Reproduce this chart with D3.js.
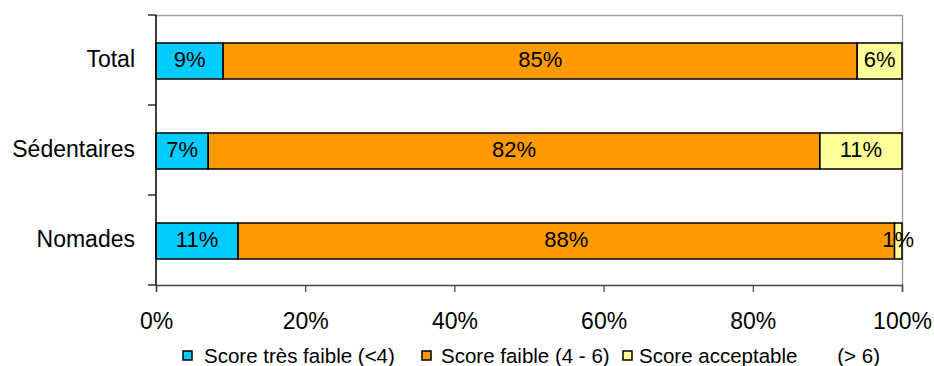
<!DOCTYPE html>
<html>
<head>
<meta charset="utf-8">
<script src="https://cdn.jsdelivr.net/npm/d3@7"></script>
<style>
  html, body { margin: 0; padding: 0; background: #fff; }
  svg { display: block; font-family: "Liberation Sans", Arial, sans-serif; }
</style>
</head>
<body>
<svg id="chart" width="934" height="366"></svg>
<script>
// Groups, top to bottom
const categories = ["Total", "Sédentaires", "Nomades"];
// Share of each score class per group (%)
const tresFaible = [9, 7, 11];
const faible = [85, 82, 88];
const acceptable = [6, 11, 1];
const seriesNames = ["Score très faible (<4)", "Score faible (4 - 6)", "Score acceptable       (> 6)"];
const seriesColors = ["#00CCFF", "#FF9900", "#FFFF99"];
const xTicks = [0, 20, 40, 60, 80, 100];

const svg = d3.select("#chart");
const plotL = 156, plotR = 902, plotT = 15, plotB = 285;

const x = d3.scaleLinear().domain([0, 100]).range([plotL, plotR]);
const y = d3.scaleBand().domain(categories).range([plotT, plotB]).padding(0);
const barH = y.bandwidth() * 0.4;

// Frame: grey top and right edges
svg.append("line").attr("x1", plotL).attr("x2", plotR).attr("y1", plotT + 0.5).attr("y2", plotT + 0.5)
  .attr("stroke", "#a0a0a0").attr("stroke-width", 1.5);
svg.append("line").attr("x1", plotR + 0.5).attr("x2", plotR + 0.5).attr("y1", plotT).attr("y2", plotB)
  .attr("stroke", "#a0a0a0").attr("stroke-width", 1.5);

// Stacked rows
const rows = categories.map((c, i) => ({ cat: c, vals: [tresFaible[i], faible[i], acceptable[i]] }));
rows.forEach(r => {
  let acc = 0;
  const yc = y(r.cat) + y.bandwidth() / 2 + 1;
  r.vals.forEach((v, k) => {
    const x0 = x(acc), x1 = x(acc + v);
    svg.append("rect")
      .attr("x", x0).attr("y", yc - barH / 2)
      .attr("width", x1 - x0).attr("height", barH)
      .attr("fill", seriesColors[k]).attr("stroke", "#000").attr("stroke-width", 1.5);
    acc += v;
  });
  acc = 0;
  r.vals.forEach((v) => {
    svg.append("text")
      .attr("x", x(acc + v / 2)).attr("y", yc - 1.5)
      .attr("text-anchor", "middle").attr("dominant-baseline", "central")
      .attr("font-size", 22).attr("fill", "#000")
      .text(v + "%");
    acc += v;
  });
});

// Bottom axis
const xAxis = d3.axisBottom(x).tickValues(xTicks).tickFormat(d => d + "%").tickSize(7).tickPadding(21);
const gx = svg.append("g").attr("transform", `translate(0,${plotB})`).call(xAxis);
gx.select(".domain").attr("stroke", "#444").attr("stroke-width", 1.5);
gx.selectAll(".tick line").attr("stroke", "#444").attr("stroke-width", 1.2);
gx.selectAll(".tick text").attr("font-size", 23).attr("fill", "#000").attr("font-family", "Liberation Sans, Arial, sans-serif");

// Left axis: ticks at band boundaries
svg.append("line").attr("x1", plotL).attr("x2", plotL).attr("y1", plotT).attr("y2", plotB)
  .attr("stroke", "#000").attr("stroke-width", 1.5);
const bounds = categories.map(c => y(c)).concat([plotB]);
svg.selectAll(".ytick").data(bounds).join("line").attr("class", "ytick")
  .attr("x1", plotL - 8).attr("x2", plotL).attr("y1", d => d).attr("y2", d => d)
  .attr("stroke", "#000").attr("stroke-width", 1.2);
svg.selectAll(".ylab").data(categories).join("text").attr("class", "ylab")
  .attr("x", 135).attr("y", d => y(d) + y.bandwidth() / 2 - 1)
  .attr("text-anchor", "end").attr("dominant-baseline", "central")
  .attr("font-size", 23).attr("fill", "#000").text(d => d);

// Legend
const legendSq = [183, 422, 623];
const legendTx = [204, 441, 639];
const lg = svg.append("g");
seriesNames.forEach((n, k) => {
  lg.append("rect").attr("x", legendSq[k]).attr("y", 351).attr("width", 9).attr("height", 9)
    .attr("fill", seriesColors[k]).attr("stroke", "#000").attr("stroke-width", 1.5);
  lg.append("text").attr("x", legendTx[k]).attr("y", 355)
    .attr("dominant-baseline", "central").attr("font-size", 20.5).attr("fill", "#000")
    .attr("xml:space", "preserve").style("white-space", "pre")
    .text(n);
});
</script>
</body>
</html>
